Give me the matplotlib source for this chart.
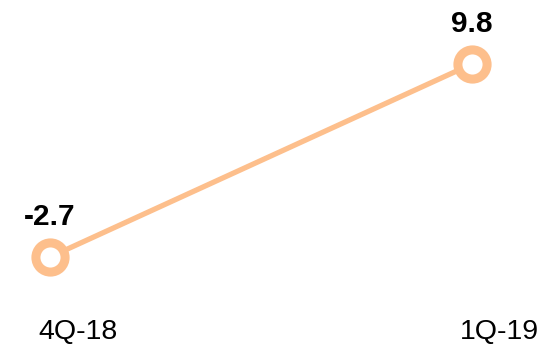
import matplotlib.pyplot as plt

quarters = ["4Q-18", "1Q-19"]
values = [-2.7, 9.8]

line_color = "#fdbf8c"

plt.rcParams["font.family"] = ["Liberation Sans", "DejaVu Sans"]

fig = plt.figure(figsize=(5.42, 3.46), dpi=100)
ax = fig.add_axes([0, 0, 1, 1])

x = list(range(len(values)))
ax.plot(x, values, color=line_color, lw=3.8, solid_capstyle="round", zorder=1)
ax.plot(x, values, "o", ms=21, mfc="white", mec=line_color, mew=6.5, zorder=2)

# value labels above each point
for xi, v in zip(x, values):
    ax.annotate(f"{v:.1f}", xy=(xi, v), xytext=(0, 23), textcoords="offset points",
                ha="center", va="baseline", fontsize=21.5, fontweight="bold")

# category labels along the bottom
for xi, q in zip(x, quarters):
    ax.annotate(q, xy=(xi, 0), xycoords=("data", "axes fraction"),
                xytext=(20, 5), textcoords="offset points",
                ha="center", va="baseline", fontsize=20.5)

ax.set_xlim(-0.1185, 1.166)
ax.set_ylim(-8.464, 13.945)
ax.axis("off")

fig.savefig("out.png", dpi=100, facecolor="white")
